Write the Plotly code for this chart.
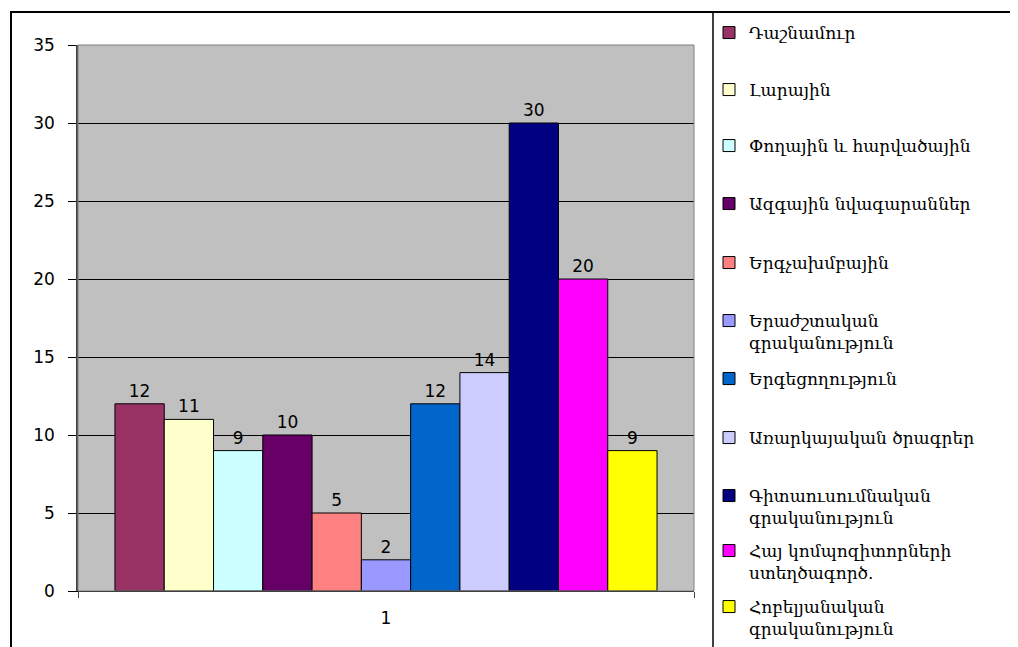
import plotly.graph_objects as go

categories = ["1"]
series_names = [
    "Դաշնամուր",
    "Լարային",
    "Փողային և հարվածային",
    "Ազգային նվագարաններ",
    "Երգչախմբային",
    "Երաժշտական<br>գրականություն",
    "Երգեցողություն",
    "Առարկայական ծրագրեր",
    "Գիտաուսումնական<br>գրականություն",
    "Հայ կոմպոզիտորների<br>ստեղծագործ.",
    "Հոբելյանական<br>գրականություն",
]
series_values = [12, 11, 9, 10, 5, 2, 12, 14, 30, 20, 9]
series_colors = ["#993366", "#FFFFCC", "#CCFFFF", "#660066", "#FF8080", "#9999FF",
                 "#0066CC", "#CCCCFF", "#000080", "#FF00FF", "#FFFF00"]
y_ticks = [0, 5, 10, 15, 20, 25, 30, 35]

# page body has an 8px margin, so the figure is drawn 8px smaller and shifted
OFF = 8
W, H = 1018 - OFF, 647 - OFF
L, R, T, B = 78, 694, 45, 591  # plot area in screen pixels

# legend symbol centre rows (screen pixels from top)
legend_rows = [33, 90, 146, 204, 263, 321, 379, 438, 496, 551, 607]
LEG_X = 709

NUM_FONT = dict(family="DejaVu Sans", size=17, color="black")

fig = go.Figure()
for i, (name, val, col) in enumerate(zip(series_names, series_values, series_colors)):
    lg = "legend" if i == 0 else f"legend{i+1}"
    fig.add_trace(go.Bar(
        x=categories, y=[val], name=name,
        marker=dict(color=col, line=dict(color="black", width=1)),
        text=[str(val)], textposition="outside",
        textfont=NUM_FONT,
        cliponaxis=False, legend=lg,
    ))

layout_legends = {}
for i, row in enumerate(legend_rows):
    key = "legend" if i == 0 else f"legend{i+1}"
    layout_legends[key] = dict(
        x=(LEG_X - OFF) / W, y=1 - (row - 18 - OFF) / H,
        xref="container", yref="container",
        xanchor="left", yanchor="top", bgcolor="rgba(0,0,0,0)",
        borderwidth=0, valign="top",
        font=dict(family="DejaVu Serif", size=17, color="black"),
    )

fig.update_layout(
    width=W, height=H,
    margin=dict(l=L - OFF, r=W - (R - OFF), t=T - OFF, b=H - (B - OFF), pad=0),
    paper_bgcolor="white", plot_bgcolor="#C0C0C0",
    barmode="group", bargap=0.12, bargroupgap=0,
    showlegend=True,
    **layout_legends,
)
fig.update_yaxes(
    range=[0, 35], tickvals=y_ticks, showgrid=True, gridcolor="black", gridwidth=1,
    ticks="outside", ticklen=8, tickcolor="black", showline=True, linecolor="#404040",
    linewidth=1.5, zeroline=False, ticklabelstandoff=10,
    tickfont=NUM_FONT,
)
fig.update_xaxes(
    showline=True, linecolor="black", linewidth=1,
    ticks="outside", tickson="boundaries", ticklen=6, tickcolor="#404040",
    ticklabelstandoff=12,
    tickfont=NUM_FONT,
)

# plot-area frame, legend frame and outer chart border
fig.add_shape(type="rect", xref="paper", yref="paper", x0=0, y0=0, x1=1, y1=1,
              line=dict(color="#808080", width=1), layer="above")
px = lambda v: (v - L) / (R - L)
py = lambda v: (B - v) / (B - T)
fig.add_shape(type="rect", xref="paper", yref="paper",
              x0=px(11), y0=py(700), x1=px(1100), y1=py(12),
              line=dict(color="black", width=2))
fig.add_shape(type="line", xref="paper", yref="paper",
              x0=px(713), y0=py(12), x1=px(713), y1=py(700),
              line=dict(color="black", width=1.5))

fig.write_html("out.html")
